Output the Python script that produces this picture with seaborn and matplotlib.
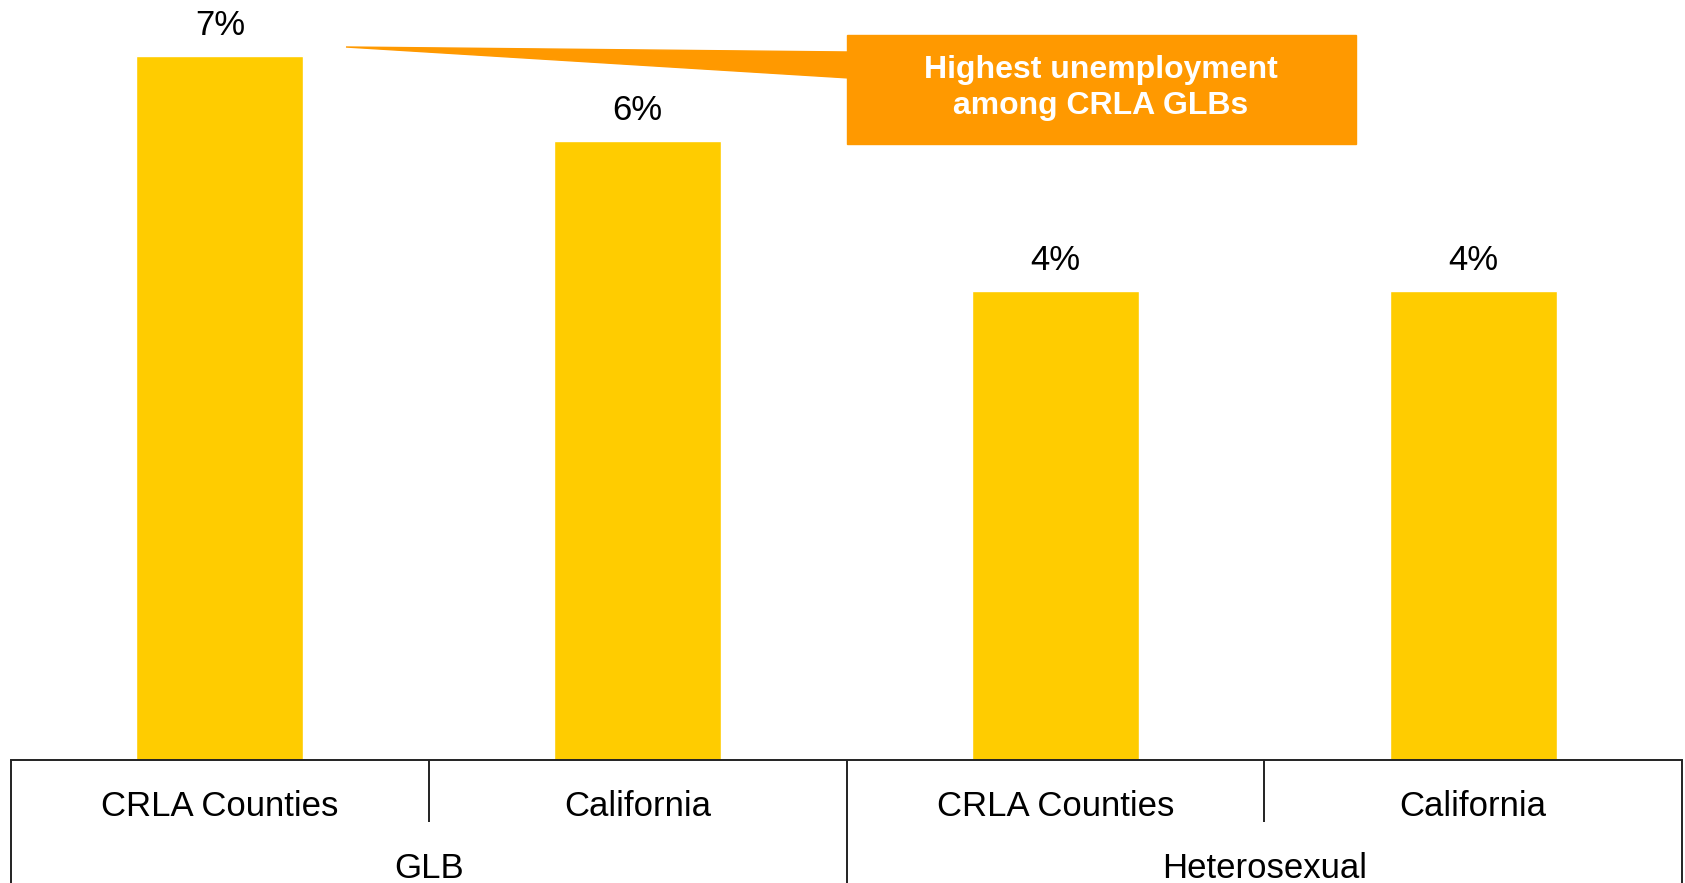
#!/usr/bin/env python3

from matplotlib.patches import Polygon, Rectangle
from matplotlib.pyplot import close, figure, rcParams, savefig
from pandas import DataFrame
from seaborn import barplot, set_style

GROUPS = ["GLB", "GLB", "Heterosexual", "Heterosexual"]
AREAS = ["CRLA Counties", "California", "CRLA Counties", "California"]
RATES = [6.6, 5.8, 4.4, 4.4]
GROUP_LABELS = ["GLB", "Heterosexual"]
CALLOUT = "Highest unemployment\namong CRLA GLBs"

W, H = 1685, 883
BAR = "#FFCC00"
ORANGE = "#FF9900"
LINE = "#222222"


def fx(px):
    return px / W


def fy(py):
    return 1 - py / H


def main():
    set_style("white")
    rcParams["font.family"] = ["Liberation Sans", "DejaVu Sans"]
    rcParams["text.color"] = "black"
    data = DataFrame({
        "key": [f"{g} / {a}" for g, a in zip(GROUPS, AREAS)],
        "rate": RATES,
    })
    fig = figure(figsize=(W / 100, H / 100), dpi=100)
    ax = fig.add_axes([fx(11), fy(760), fx(1682 - 11), 760 / H])
    barplot(data, x="key", y="rate", color=BAR, saturation=1, width=0.4,
            ax=ax)
    ax.set_xlim(-0.5, len(RATES) - 0.5)
    ax.set_ylim(0, 7.125)
    ax.bar_label(ax.containers[0], labels=[f"{v:.0f}%" for v in RATES],
                 padding=10, fontsize=25, color="black")
    for side in ["left", "right", "top"]:
        ax.spines[side].set_visible(False)
    ax.spines["bottom"].set_color(LINE)
    ax.spines["bottom"].set_linewidth(1.4)
    ax.set_xticks([])
    ax.set_yticks([])
    ax.set_xlabel("")
    ax.set_ylabel("")

    # category table under the bars
    trans = ax.get_xaxis_transform()
    ax.vlines([-0.5, 1.5, 3.5], 0, -0.2, transform=trans, color=LINE,
              lw=1.4, clip_on=False)
    ax.vlines([0.5, 2.5], 0, -62 / 760, transform=trans, color=LINE,
              lw=1.4, clip_on=False)
    for i, area in enumerate(AREAS):
        ax.text(i, -47 / 760, area, transform=trans, ha="center",
                va="center", fontsize=25, color="black")
    for i, group in enumerate(GROUP_LABELS):
        ax.text(2 * i + 0.5, -109 / 760, group, transform=trans,
                ha="center", va="center", fontsize=25, color="black")

    # callout
    fig.patches.append(Polygon(
        [(fx(346), fy(47)), (fx(849), fy(52)), (fx(849), fy(78))],
        closed=True, color=ORANGE, transform=fig.transFigure,
    ))
    fig.patches.append(Rectangle(
        (fx(847), fy(144)), fx(1356 - 847), 109 / H,
        color=ORANGE, transform=fig.transFigure,
    ))
    fig.text(fx(1101), fy(88), CALLOUT, ha="center", va="center",
             color="white", fontsize=23, fontweight="bold", linespacing=1.26)

    savefig("out.png", dpi=100)
    close()


if __name__ == "__main__":
    main()
